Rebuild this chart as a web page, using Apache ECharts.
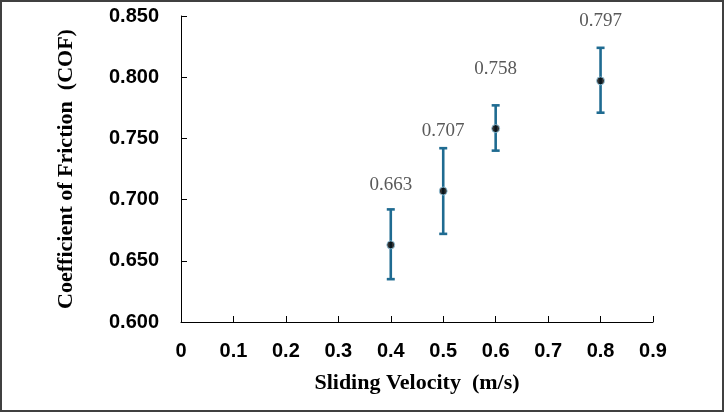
<!DOCTYPE html>
<html>
<head>
<meta charset="utf-8">
<script src="https://cdn.jsdelivr.net/npm/echarts@6/dist/echarts.min.js"></script>
<style>
  html, body { margin: 0; padding: 0; background: #fff; }
  #chart { width: 724px; height: 412px; }
</style>
</head>
<body>
<div id="chart"></div>
<script>
// sliding velocity (m/s) and coefficient of friction
const velocity = [0.4, 0.5, 0.6, 0.8];
const cof = [0.663, 0.707, 0.758, 0.797];
const cofLow = [0.635, 0.672, 0.740, 0.771];
const cofHigh = [0.692, 0.742, 0.777, 0.824];
const cofLabels = ['0.663', '0.707', '0.758', '0.797'];

const barColor = '#1f6b91';

const errData = velocity.map((v, i) => [v, cofLow[i], cofHigh[i], cof[i], i]);
const pointData = velocity.map((v, i) => [v, cof[i]]);

let chart = echarts.init(document.getElementById('chart'));
let option = {
  animation: false,
  graphic: [{
    type: 'rect',
    shape: { x: 1, y: 1, width: 722, height: 410 },
    style: { fill: 'none', stroke: '#404040', lineWidth: 2 },
    silent: true
  }],
  grid: { left: 181, right: 71, top: 16, bottom: 90 },
  xAxis: {
    type: 'value',
    min: 0,
    max: 0.9,
    interval: 0.1,
    name: 'Sliding Velocity  (m/s)',
    nameLocation: 'middle',
    nameGap: 50,
    nameTextStyle: { fontFamily: 'Liberation Serif', fontWeight: 'bold', fontSize: 22, color: '#000' },
    axisLine: { show: true, lineStyle: { color: '#000', width: 1 } },
    axisTick: { show: true, inside: true, length: 6, lineStyle: { color: '#000' } },
    axisLabel: {
      margin: 19,
      fontFamily: 'Liberation Sans', fontWeight: 'bold', fontSize: 20, color: '#000',
      formatter: v => v === 0 ? '0' : v.toFixed(1)
    },
    splitLine: { show: false }
  },
  yAxis: {
    type: 'value',
    min: 0.6,
    max: 0.85,
    interval: 0.05,
    name: 'Coefficient of Friction  (COF)',
    nameLocation: 'middle',
    nameGap: 104,
    nameTextStyle: { fontFamily: 'Liberation Serif', fontWeight: 'bold', fontSize: 22, color: '#000' },
    axisLine: { show: true, lineStyle: { color: '#000', width: 1 } },
    axisTick: { show: true, inside: true, length: 6, lineStyle: { color: '#000' } },
    axisLabel: {
      margin: 22,
      fontFamily: 'Liberation Sans', fontWeight: 'bold', fontSize: 20, color: '#000',
      formatter: v => v.toFixed(3)
    },
    splitLine: { show: false }
  },
  series: [
    {
      type: 'custom',
      data: errData,
      z: 2,
      renderItem: function (params, api) {
        const x = api.value(0);
        const lo = api.coord([x, api.value(1)]);
        const hi = api.coord([x, api.value(2)]);
        const mid = api.coord([x, api.value(3)]);
        const idx = api.value(4);
        const cap = 4;
        const st = { stroke: barColor, lineWidth: 2.6 };
        return {
          type: 'group',
          children: [
            { type: 'line', shape: { x1: hi[0], y1: hi[1], x2: lo[0], y2: lo[1] }, style: st },
            { type: 'line', shape: { x1: hi[0] - cap, y1: hi[1], x2: hi[0] + cap, y2: hi[1] }, style: st },
            { type: 'line', shape: { x1: lo[0] - cap, y1: lo[1], x2: lo[0] + cap, y2: lo[1] }, style: st },
            {
              type: 'text',
              style: {
                text: cofLabels[idx],
                x: mid[0], y: mid[1] - 60,
                align: 'center', verticalAlign: 'middle',
                fontFamily: 'Liberation Serif', fontSize: 19, fill: '#595959'
              }
            }
          ]
        };
      }
    },
    {
      type: 'scatter',
      data: pointData,
      z: 3,
      symbol: 'circle',
      symbolSize: 8,
      itemStyle: { color: '#000', borderColor: '#9fd4ef', borderWidth: 1 }
    }
  ]
};
option && chart.setOption(option);
</script>
</body>
</html>
